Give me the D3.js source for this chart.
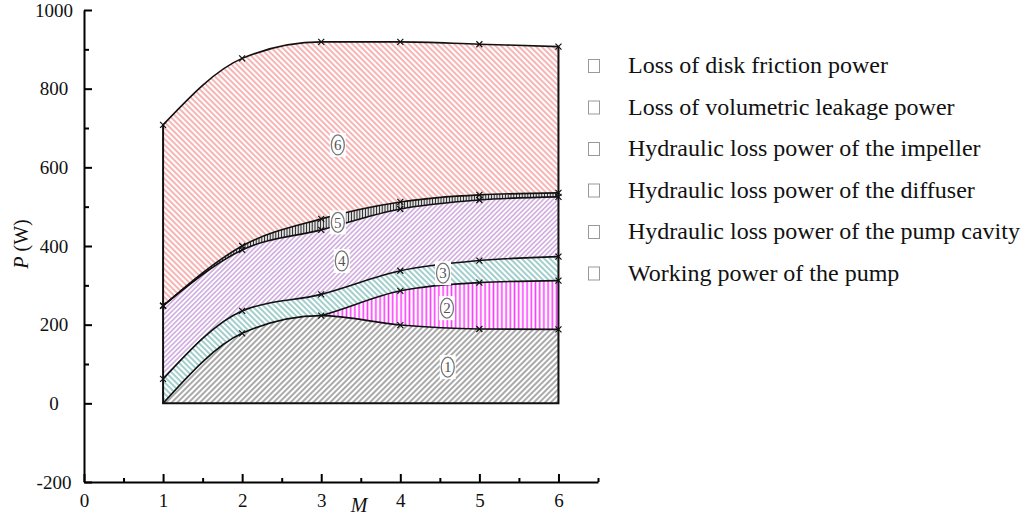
<!DOCTYPE html>
<html>
<head>
<meta charset="utf-8">
<script src="https://cdn.jsdelivr.net/npm/d3@7"></script>
<style>
body { margin: 0; background: #fff; }
svg { display: block; font-family: "Liberation Serif", "Times New Roman", serif; }
.axis path, .axis line { stroke: #000; stroke-width: 2; }
.axis text { font-family: "Liberation Serif", serif; font-size: 19px; fill: #111; }
</style>
</head>
<body>
<svg width="1032" height="517"></svg>
<script>

/*****************************************
*   Data
*****************************************/

const M_VALUES = [1, 2, 3, 4, 5, 6];

// upper edge of each stacked band, P in W
const WORKING_TOP  = [0, 178, 223, 199, 189, 188];     // band 1
const CAVITY_TOP   = [0, 178, 223, 286, 307, 312];     // band 2
const DIFFUSER_TOP = [62, 235, 277, 337, 363, 373];    // band 3
const IMPELLER_TOP = [248, 390, 441, 494, 517, 525];   // band 4
const LEAKAGE_TOP  = [248, 400, 469, 512, 530, 535];   // band 5
const FRICTION_TOP = [708, 877, 919, 919, 913, 907];   // band 6

const X_TICKS = [0, 1, 2, 3, 4, 5, 6];
const X_MINOR = [0.5, 1.5, 2.5, 3.5, 4.5, 5.5, 6.5];
const Y_TICKS = [-200, 0, 200, 400, 600, 800, 1000];
const Y_MINOR = [100, 300, 500, 700, 900];

const BAND_NAMES = ['1', '2', '3', '4', '5', '6'];
// where the circled numbers sit (M, P)
const BAND_LABEL_M = [4.6, 4.59, 4.54, 3.26, 3.21, 3.21];
const BAND_LABEL_P = [92, 242, 331, 362, 460, 657];

const LEGEND_LABELS = [
    'Loss of disk friction power',
    'Loss of volumetric leakage power',
    'Hydraulic loss power of the impeller',
    'Hydraulic loss power of the diffuser',
    'Hydraulic loss power of the pump cavity',
    'Working power of the pump'
];

/*****************************************
*   Layout
*****************************************/

const X_LEFT = 84;
const X_RIGHT = 598;
const Y_BOTTOM = 482;
const Y_TOP = 10;

var svg = d3.select('svg');

var xScale = d3.scaleLinear()
    .domain([0, 6.5])
    .range([X_LEFT, X_RIGHT]);

var yScale = d3.scaleLinear()
    .domain([-200, 1000])
    .range([Y_BOTTOM, Y_TOP]);

/*****************************************
*   Hatch patterns
*****************************************/

var defs = svg.append('defs');

function add_hatch(id, color, spacing, width, angle) {
    var p = defs.append('pattern')
        .attr('id', id)
        .attr('patternUnits', 'userSpaceOnUse')
        .attr('width', spacing)
        .attr('height', spacing)
        .attr('patternTransform', 'rotate(' + angle + ')');
    p.append('rect')
        .attr('width', spacing)
        .attr('height', spacing)
        .attr('fill', '#fff');
    p.append('line')
        .attr('x1', spacing / 2).attr('x2', spacing / 2)
        .attr('y1', 0).attr('y2', spacing)
        .attr('stroke', color)
        .attr('stroke-width', width);
}

add_hatch('h6', '#f26a6a', 4.0, 1.0, -45);
add_hatch('h5', '#222', 2.8, 1.2, 0);
add_hatch('h4', '#b479cc', 3.4, 1.0, 45);
add_hatch('h3', '#55a8a4', 4.0, 1.1, -45);
add_hatch('h2', '#ff3cff', 4.2, 1.6, 0);
add_hatch('h1', '#555', 4.0, 1.0, 45);

defs.append('clipPath')
    .attr('id', 'clip2')
    .append('rect')
    .attr('x', xScale(3))
    .attr('y', 0)
    .attr('width', xScale(6) - xScale(3))
    .attr('height', 517);

/*****************************************
*   Bands
*****************************************/

var tops = [WORKING_TOP, CAVITY_TOP, DIFFUSER_TOP, IMPELLER_TOP, LEAKAGE_TOP, FRICTION_TOP];

var area = d3.area()
    .x((d, i) => xScale(M_VALUES[i]))
    .y0(yScale(0))
    .y1(d => yScale(d))
    .curve(d3.curveMonotoneX);

var line = d3.line()
    .x((d, i) => xScale(M_VALUES[i]))
    .y(d => yScale(d))
    .curve(d3.curveMonotoneX);

// paint top band first, each lower band covers the one above
for (var k = 5; k >= 0; k--) {
    svg.append('path')
        .attr('d', area(tops[k]))
        .attr('fill', 'url(#h' + (k + 1) + ')')
        .attr('clip-path', k == 1 ? 'url(#clip2)' : null);
}

for (var k = 0; k < 6; k++) {
    svg.append('path')
        .attr('d', line(tops[k]))
        .attr('fill', 'none')
        .attr('stroke', '#111')
        .attr('stroke-width', 1.6)
        .attr('clip-path', k == 1 ? 'url(#clip2)' : null);
}

// frame of the stacked area
var frame = d3.path();
frame.moveTo(xScale(1), yScale(FRICTION_TOP[0]));
frame.lineTo(xScale(1), yScale(0));
frame.lineTo(xScale(6), yScale(0));
frame.lineTo(xScale(6), yScale(FRICTION_TOP[5]));
svg.append('path')
    .attr('d', frame.toString())
    .attr('fill', 'none')
    .attr('stroke', '#111')
    .attr('stroke-width', 2);

// x markers at the computed points
for (var k = 0; k < 6; k++) {
    svg.append('g')
        .selectAll('path')
        .data(tops[k].map((v, i) => [M_VALUES[i], v]).filter(d => !(k == 1 && d[0] < 4) && d[1] > 0))
        .enter()
          .append('path')
          .attr('transform', d => 'translate(' + xScale(d[0]) + ',' + yScale(d[1]) + ')')
          .attr('d', 'M-3,-3L3,3M-3,3L3,-3')
          .attr('stroke', '#111')
          .attr('stroke-width', 1.2);
}

// circled band numbers
var labels = svg.append('g')
    .selectAll('g')
    .data(BAND_NAMES)
    .enter()
      .append('g')
      .attr('transform', (d, i) => 'translate(' + xScale(BAND_LABEL_M[i]) + ',' + yScale(BAND_LABEL_P[i]) + ')');

labels.append('rect')
    .attr('x', -8).attr('y', -12)
    .attr('width', 16).attr('height', 24)
    .attr('fill', '#fff');
labels.append('ellipse')
    .attr('rx', 6.5).attr('ry', 10)
    .attr('fill', '#fff')
    .attr('stroke', '#777')
    .attr('stroke-width', 1.3);
labels.append('text')
    .attr('text-anchor', 'middle')
    .attr('dy', '0.35em')
    .attr('font-size', 15)
    .attr('fill', '#555')
    .text(d => d);

/*****************************************
*   Axes
*****************************************/

function build_axes() {
    var xAxis = d3.axisBottom(xScale)
        .tickValues(X_TICKS)
        .tickSizeInner(-8)
        .tickSizeOuter(0)
        .tickFormat(d => String(d));
    var gx = svg.append('g')
        .attr('class', 'axis')
        .attr('transform', 'translate(0,' + Y_BOTTOM + ')')
        .call(xAxis);
    gx.selectAll('text').attr('y', 25).attr('dy', 0);

    var xMinor = d3.axisBottom(xScale)
        .tickValues(X_MINOR)
        .tickSizeInner(-4)
        .tickSizeOuter(0)
        .tickFormat('');
    svg.append('g')
        .attr('class', 'axis')
        .attr('transform', 'translate(0,' + Y_BOTTOM + ')')
        .call(xMinor)
        .select('.domain').remove();

    var yAxis = d3.axisLeft(yScale)
        .tickValues(Y_TICKS)
        .tickSizeInner(-8)
        .tickSizeOuter(0)
        .tickFormat(d => String(d));
    var gy = svg.append('g')
        .attr('class', 'axis')
        .attr('transform', 'translate(' + X_LEFT + ',0)')
        .call(yAxis);
    gy.selectAll('text').attr('x', -30).attr('text-anchor', 'middle');

    var yMinor = d3.axisLeft(yScale)
        .tickValues(Y_MINOR)
        .tickSizeInner(-5)
        .tickSizeOuter(0)
        .tickFormat('');
    svg.append('g')
        .attr('class', 'axis')
        .attr('transform', 'translate(' + X_LEFT + ',0)')
        .call(yMinor)
        .select('.domain').remove();
}

build_axes();

var ylab = svg.append('text')
    .attr('transform', 'translate(28,244) rotate(-90)')
    .attr('text-anchor', 'middle')
    .attr('font-size', 20)
    .attr('fill', '#111');
ylab.append('tspan').attr('font-style', 'italic').text('P');
ylab.append('tspan').text(' (W)');

svg.append('text')
    .attr('x', 359)
    .attr('y', 512)
    .attr('text-anchor', 'middle')
    .attr('font-size', 20)
    .attr('font-style', 'italic')
    .attr('fill', '#111')
    .text('M');

/*****************************************
*   Legend
*****************************************/

var rows = svg.append('g')
    .selectAll('g')
    .data(LEGEND_LABELS)
    .enter()
      .append('g')
      .attr('transform', (d, i) => 'translate(0,' + (73 + i * 41.5) + ')');

rows.append('rect')
    .attr('x', 588.5).attr('y', -13.5)
    .attr('width', 11).attr('height', 13)
    .attr('fill', 'none')
    .attr('stroke', '#999')
    .attr('stroke-width', 1);

rows.append('text')
    .attr('x', 628)
    .attr('font-size', 24)
    .attr('fill', '#111')
    .text(d => d);

</script>
</body>
</html>
